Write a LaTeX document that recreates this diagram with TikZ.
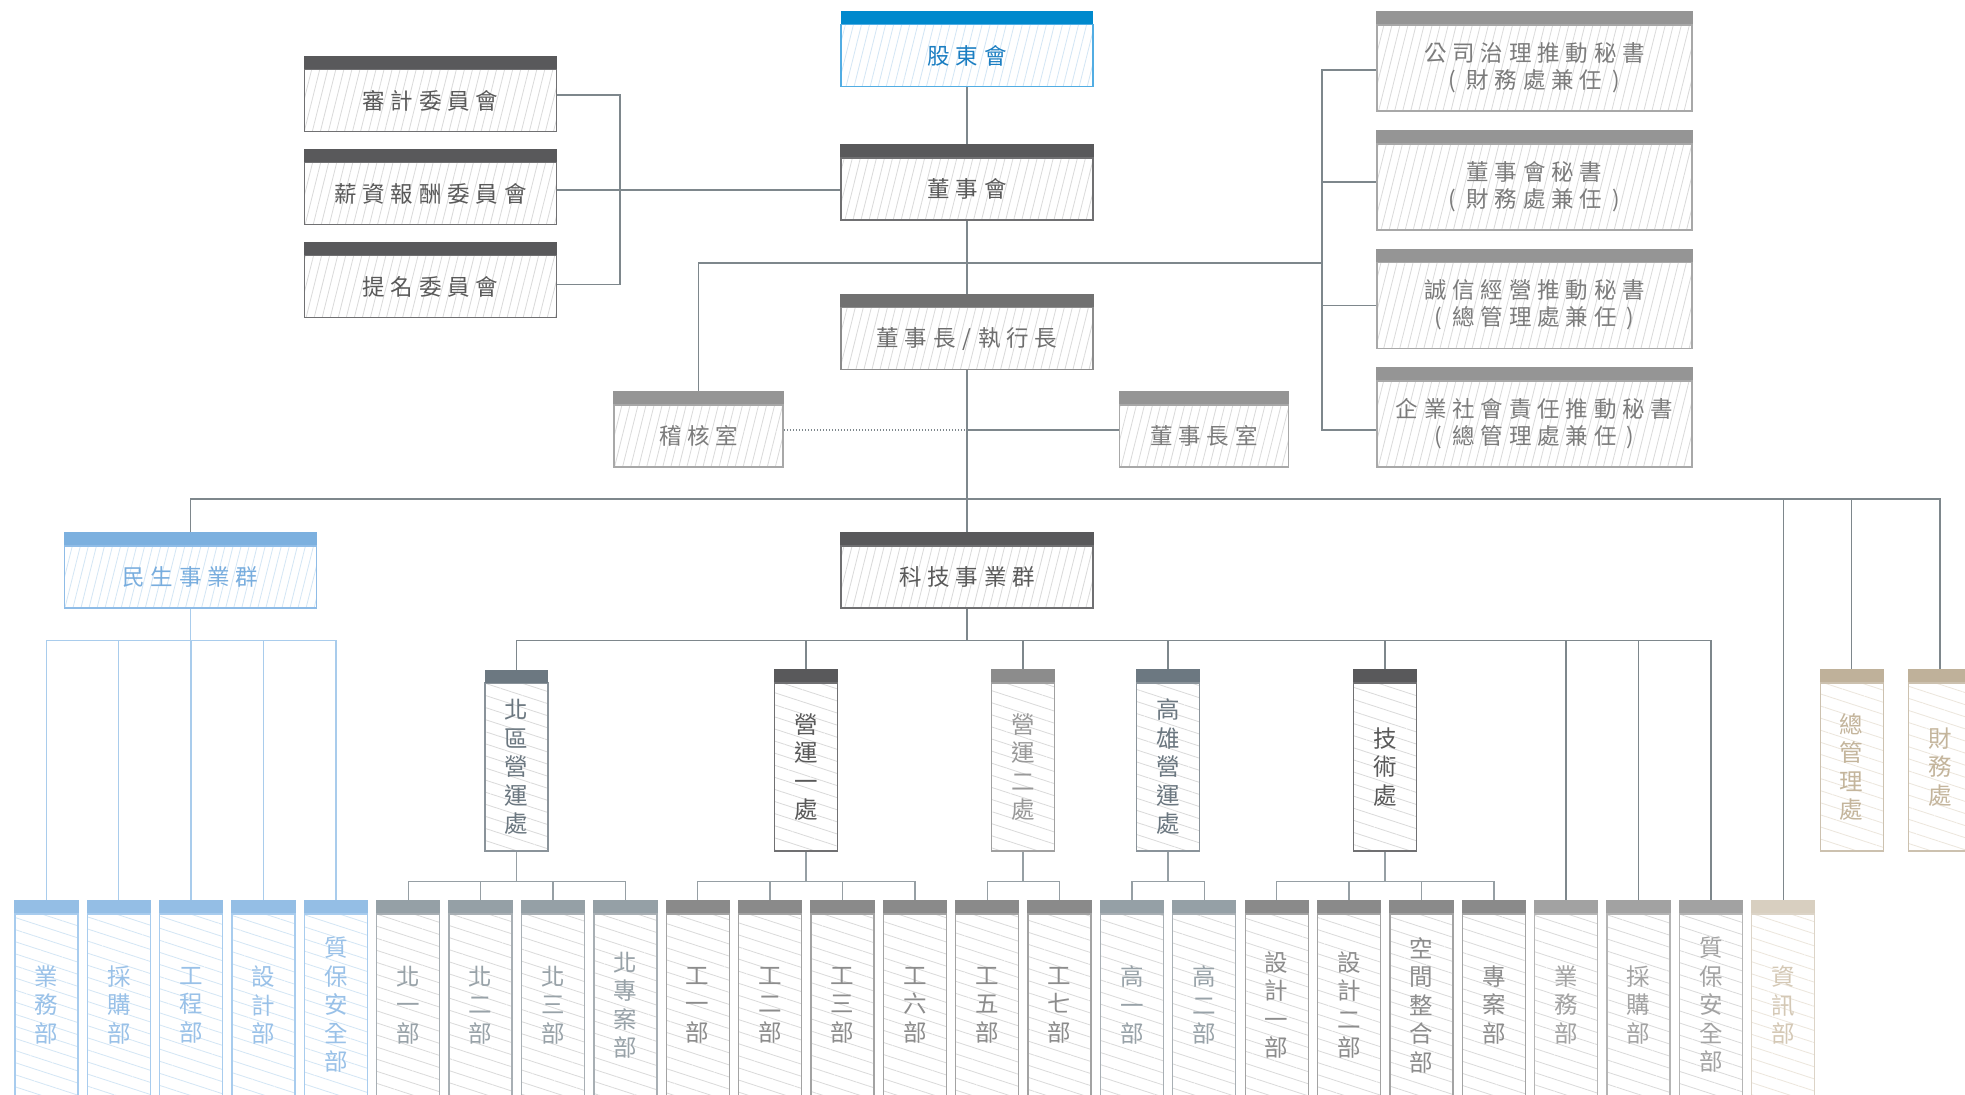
\documentclass[tikz,border=0pt]{standalone}
\usepackage{fontspec}
\newfontfamily\cjk[LetterSpace=26]{Noto Sans CJK TC}
\newfontfamily\cjkv{Noto Sans CJK TC}
\usetikzlibrary{patterns.meta,fit,backgrounds}

\definecolor{conngray}{HTML}{7E878C}
\definecolor{connlite}{HTML}{969FA4}
\definecolor{connblue}{HTML}{A9CCEC}
\definecolor{hatchgray}{HTML}{DADADA}
\definecolor{hatchblue}{HTML}{D3E6F5}
\definecolor{hatchtan}{HTML}{ECE6DC}
% borders, texts, headers
\definecolor{agmdraw}{HTML}{52ADE3}\definecolor{agmtext}{HTML}{1B7EC2}\definecolor{agmhead}{HTML}{0089CD}
\definecolor{darkdraw}{HTML}{707072}\definecolor{darktext}{HTML}{595959}\definecolor{darkhead}{HTML}{59595B}
\definecolor{ceodraw}{HTML}{8C8C8C}\definecolor{ceotext}{HTML}{6E6E6E}\definecolor{ceohead}{HTML}{717171}
\definecolor{middraw}{HTML}{A8A8A8}\definecolor{midtext}{HTML}{7B7B7B}\definecolor{midhead}{HTML}{959595}
\definecolor{msdraw}{HTML}{8FBCE7}\definecolor{mstext}{HTML}{78ADDE}\definecolor{mshead}{HTML}{7CB0DF}
\definecolor{msldraw}{HTML}{A8CCEE}\definecolor{msltext}{HTML}{99C1E8}\definecolor{mslhead}{HTML}{94BEE5}
\definecolor{sldraw}{HTML}{8A939A}\definecolor{sltext}{HTML}{6B7780}\definecolor{slhead}{HTML}{6C7881}
\definecolor{slldraw}{HTML}{A8AFB4}\definecolor{slltext}{HTML}{98A2A8}\definecolor{sllhead}{HTML}{95A0A6}
\definecolor{optdraw}{HTML}{A0A0A0}\definecolor{opttext}{HTML}{999999}\definecolor{opthead}{HTML}{8C8C8C}
\definecolor{grdraw}{HTML}{A3A3A3}\definecolor{grtext}{HTML}{8C8C8C}\definecolor{grhead}{HTML}{8A8A8A}
\definecolor{ltdraw}{HTML}{B5B5B5}\definecolor{lttext}{HTML}{A3A3A3}\definecolor{lthead}{HTML}{A2A2A2}
\definecolor{itdraw}{HTML}{DCD4C7}\definecolor{ittext}{HTML}{D4C8B5}\definecolor{ithead}{HTML}{D8CFC0}
\definecolor{tandraw}{HTML}{CCC1AF}\definecolor{tantext}{HTML}{C4B59C}\definecolor{tanhead}{HTML}{BFB19A}

\tikzset{
  conn/.style={draw=conngray, line width=1.4bp},
  connl/.style={draw=connlite, line width=1.4bp},
  connb/.style={draw=connblue, line width=1.4bp},
  hd/.style={append after command={node[fill=#1, inner sep=0pt, outer sep=0pt,
      fit={(\tikzlastnode.north west)([yshift=13bp]\tikzlastnode.north east)}] {}}},
  box/.style={rectangle, inner sep=0pt, preaction={fill=white}, line width=1.3bp,
      pattern color=hatchgray, align=center},
  hbox/.style={box, minimum width=252bp, minimum height=62bp,
      pattern={Lines[angle=76,distance=7.8bp,line width=0.8bp]},
      font=\fontsize{22.5bp}{27bp}\selectfont\cjk},
  vbox/.style={box, minimum width=63bp, minimum height=168bp,
      pattern={Lines[angle=-18,distance=11.5bp,line width=0.8bp]},
      font=\fontsize{23.5bp}{28.5bp}\selectfont\cjkv},
  leaf/.style={vbox, minimum height=182bp},
  % colour schemes
  agmc/.style={draw=agmdraw, text=agmtext, pattern color=hatchblue, hd=agmhead},
  darkc/.style={draw=darkdraw, text=darktext, hd=darkhead},
  ceoc/.style={draw=ceodraw, text=ceotext, hd=ceohead},
  midc/.style={draw=middraw, text=midtext, hd=midhead},
  msc/.style={draw=msdraw, text=mstext, pattern color=hatchblue, hd=mshead},
  msleaf/.style={draw=msldraw, text=msltext, pattern color=hatchblue, hd=mslhead},
  slatec/.style={draw=sldraw, text=sltext, hd=slhead},
  slateleaf/.style={draw=slldraw, text=slltext, hd=sllhead},
  op2c/.style={draw=optdraw, text=opttext, hd=opthead},
  grayleaf/.style={draw=grdraw, text=grtext, hd=grhead},
  liteleaf/.style={draw=ltdraw, text=lttext, hd=lthead},
  itleaf/.style={draw=itdraw, text=ittext, pattern color=hatchtan, hd=ithead},
  tanc/.style={draw=tandraw, text=tantext, pattern color=hatchtan, hd=tanhead}
}
\newcommand{\pgap}{\hspace{0.45em}}

\begin{document}
\begin{tikzpicture}[x=1bp,y=-1bp]
  \useasboundingbox (0,0) rectangle (1965,1094);
  \clip (0,0) rectangle (1965,1094);

  % Board and committees
  \node[hbox, agmc] (agm) at (967,55.7) {股東會};
  \node[hbox, darkc] (board) at (967,189) {董事會};
  \node[hbox, ceoc] (ceo) at (967,338.7) {董事長\hspace{0.3em}/\hspace{0.3em}執行長};
  \node[hbox, darkc] (audcom) at (430.5,100.8) {審計委員會};
  \node[hbox, darkc] (paycom) at (430.5,193.5) {薪資報酬委員會};
  \node[hbox, darkc] (nomcom) at (430.5,286.5) {提名委員會};

  % Secretaries
  \node[hbox, midc, minimum width=315bp, minimum height=86bp] (sec1) at (1534.5,68) {公司治理推動秘書\\(\pgap{}財務處兼任\pgap{})};
  \node[hbox, midc, minimum width=315bp, minimum height=86bp] (sec2) at (1534.5,186.9) {董事會秘書\\(\pgap{}財務處兼任\pgap{})};
  \node[hbox, midc, minimum width=315bp, minimum height=86bp] (sec3) at (1534.5,305.2) {誠信經營推動秘書\\(\pgap{}總管理處兼任\pgap{})};
  \node[hbox, midc, minimum width=315bp, minimum height=86bp] (sec4) at (1534.5,423.9) {企業社會責任推動秘書\\(\pgap{}總管理處兼任\pgap{})};

  % Offices
  \node[hbox, midc, minimum width=169bp] (auditoff) at (698.6,436) {稽核室};
  \node[hbox, midc, minimum width=169bp] (chairoff) at (1203.8,436) {董事長室};

  % Business groups
  \node[hbox, msc] (minsheng) at (190.5,577) {民生事業群};
  \node[hbox, darkc] (tech) at (967,577) {科技事業群};

  % Divisions
  \node[vbox, slatec] (north) at (516.5,767) {北\\區\\營\\運\\處};
  \node[vbox, darkc] (op1) at (806,767) {營\\運\\一\\處};
  \node[vbox, op2c] (op2) at (1023,767) {營\\運\\二\\處};
  \node[vbox, slatec] (kh) at (1168,767) {高\\雄\\營\\運\\處};
  \node[vbox, darkc] (techdiv) at (1385,767) {技\\術\\處};
  \node[vbox, tanc] (genmgmt) at (1851.7,767) {總\\管\\理\\處};
  \node[vbox, tanc] (finance) at (1940,767) {財\\務\\處};

  % Departments
  \foreach \k/\sty/\txt in {0/msleaf/業\\務\\部, 1/msleaf/採\\購\\部, 2/msleaf/工\\程\\部,
      3/msleaf/設\\計\\部, 4/msleaf/質\\保\\安\\全\\部,
      5/slateleaf/北\\一\\部, 6/slateleaf/北\\二\\部, 7/slateleaf/北\\三\\部, 8/slateleaf/北\\專\\案\\部,
      9/grayleaf/工\\一\\部, 10/grayleaf/工\\二\\部, 11/grayleaf/工\\三\\部, 12/grayleaf/工\\六\\部,
      13/grayleaf/工\\五\\部, 14/grayleaf/工\\七\\部,
      15/slateleaf/高\\一\\部, 16/slateleaf/高\\二\\部,
      17/grayleaf/設\\計\\一\\部, 18/grayleaf/設\\計\\二\\部, 19/grayleaf/空\\間\\整\\合\\部, 20/grayleaf/專\\案\\部,
      21/liteleaf/業\\務\\部, 22/liteleaf/採\\購\\部, 23/liteleaf/質\\保\\安\\全\\部,
      24/itleaf/資\\訊\\部}
    \node[leaf, \sty] (d\k) at ({46.4+72.37*\k},1005) {\txt};

  \begin{scope}[on background layer]
    \fill[white] (0,0) rectangle (1965,1094);

    % Top tree
    \draw[conn] (agm) -- (tech);
    \coordinate (cj) at (620,190);
    \draw[conn] ([yshift=5.8bp]audcom.center) -| (cj) |- ([yshift=2.2bp]nomcom.center);
    \draw[conn] (paycom |- cj) -- (board |- cj);
    \coordinate (sj) at (1322,263);
    \draw[conn] (auditoff) |- (sj);
    \draw[conn] ([yshift=-2bp]sec1.center) -| (sj) |- ([yshift=-6bp]sec4.center);
    \draw[conn] ([yshift=5bp]sec2.center) -- ([yshift=5bp]sec2.center -| sj);
    \draw[conn] (sec3) -- (sec3 -| sj);
    \coordinate (oj) at (967,430);
    \draw[conn, dash pattern=on 1.5bp off 1.5bp] (auditoff.east |- oj) -- (oj);
    \draw[conn] (oj) -- (oj -| chairoff);

    % Groups
    \coordinate (l1) at (967,499);
    \draw[conn] (minsheng) |- (l1) -| (finance);
    \draw[conn] (genmgmt) -- (genmgmt |- l1);
    \draw[conn] (d24) -- (d24 |- l1);

    \coordinate (l2) at ([yshift=-32bp]tech.south);
    \draw[conn] (tech) -- (l2);
    \draw[conn] (north) |- (l2) -| (d23);
    \foreach \n in {op1,op2,kh,techdiv,d21,d22}
      \draw[conn] (\n) -- (\n |- l2);

    \coordinate (jms) at ([yshift=-32bp]minsheng.south);
    \draw[connb] (minsheng) -- (jms);
    \draw[connb] (d0) |- (jms) -| (d4);
    \foreach \k in {1,2,3}
      \draw[connb] (d\k) -- (d\k |- jms);

    % Departments under divisions
    \foreach \p/\a/\b in {north/5/8, op1/9/12, op2/13/14, kh/15/16, techdiv/17/20} {
      \coordinate (j\p) at ([yshift=-30bp]\p.south);
      \draw[connl] (\p) -- (j\p);
      \draw[connl] (d\a) |- (j\p) -| (d\b);
      \foreach \k in {\a,...,\b}
        \draw[connl] (d\k) -- (d\k |- j\p);
    }
  \end{scope}
\end{tikzpicture}
\end{document}
